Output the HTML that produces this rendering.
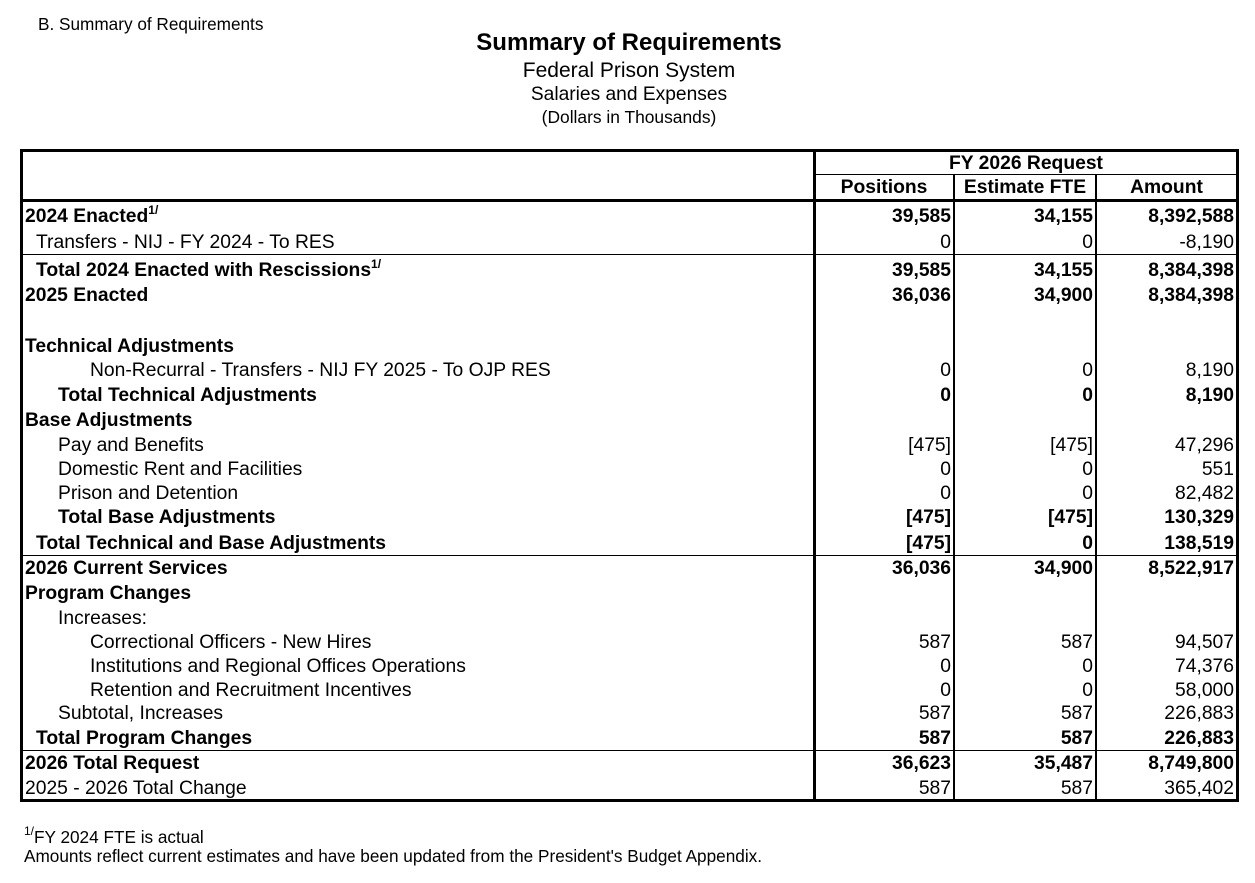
<!DOCTYPE html>
<html><head><meta charset="utf-8"><style>
body{margin:0;width:1255px;height:883px;background:#fff;font-family:"Liberation Sans",Arial,sans-serif;color:#000;position:relative;overflow:hidden}
.a{position:absolute;white-space:nowrap}
.r{position:absolute;height:24px;line-height:24px;font-size:19.3px;white-space:nowrap}
.b{font-weight:bold}
.n{position:absolute;height:24px;line-height:24px;font-size:19.3px;text-align:right}
.h{position:absolute;background:#000}
sup{font-size:12px;vertical-align:8px;line-height:0}
</style></head><body>
<div class="a" style="left:38px;top:14px;font-size:17.2px">B. Summary of Requirements</div>
<div class="a b" style="left:0;width:1258px;text-align:center;top:29px;font-size:24px">Summary of Requirements</div>
<div class="a" style="left:0;width:1258px;text-align:center;top:59px;font-size:21px">Federal Prison System</div>
<div class="a" style="left:0;width:1258px;text-align:center;top:84px;font-size:19.2px">Salaries and Expenses</div>
<div class="a" style="left:0;width:1258px;text-align:center;top:107px;font-size:17.4px">(Dollars in Thousands)</div>

<div>
<div class="h" style="left:20px;top:149px;width:1219px;height:3px"></div>
<div class="h" style="left:20px;top:799px;width:1219px;height:3px"></div>
<div class="h" style="left:20px;top:149px;width:3px;height:653px"></div>
<div class="h" style="left:1236px;top:149px;width:3px;height:653px"></div>
<div class="h" style="left:813px;top:149px;width:3px;height:653px"></div>
<div class="h" style="left:953px;top:175px;width:2px;height:626px"></div>
<div class="h" style="left:1095px;top:175px;width:2px;height:626px"></div>
<div class="h" style="left:815px;top:174px;width:422px;height:1px"></div>
<div class="h" style="left:20px;top:199px;width:1219px;height:3px"></div>
<div class="h" style="left:20px;top:254px;width:1219px;height:1px"></div>
<div class="h" style="left:20px;top:555px;width:1219px;height:1px"></div>
<div class="h" style="left:20px;top:750px;width:1219px;height:1px"></div>
<div class="r b" style="left:815px;width:422px;text-align:center;top:152px">FY 2026 Request</div>
<div class="r b" style="left:815px;width:138px;text-align:center;top:176px">Positions</div>
<div class="r b" style="left:955px;width:140px;text-align:center;top:176px">Estimate FTE</div>
<div class="r b" style="left:1097px;width:139px;text-align:center;top:176px">Amount</div>
</div>
<div id="rows"></div>
<div class="a" style="left:24px;top:827px;font-size:17.2px"><sup>1/</sup>FY 2024 FTE is actual</div>
<div class="a" style="left:24px;top:846px;font-size:17.2px">Amounts reflect current estimates and have been updated from the President's Budget Appendix.</div>
<script>
const labels=["2024 Enacted<sup>1/</sup>","Transfers - NIJ - FY 2024 - To RES","Total 2024 Enacted with Rescissions<sup>1/</sup>","2025 Enacted","","Technical Adjustments","Non-Recurral - Transfers - NIJ FY 2025 - To OJP RES","Total Technical Adjustments","Base Adjustments","Pay and Benefits","Domestic Rent and Facilities","Prison and Detention","Total Base Adjustments","Total Technical and Base Adjustments","2026 Current Services","Program Changes","Increases:","Correctional Officers - New Hires","Institutions and Regional Offices Operations","Retention and Recruitment Incentives","Subtotal, Increases","Total Program Changes","2026 Total Request","2025 - 2026 Total Change"];
const levels=[0,1,1,0,0,0,3,2,0,2,2,2,2,1,0,0,2,3,3,3,2,1,0,0];
const bold=[1,0,1,1,0,1,0,1,1,0,0,0,1,1,1,1,0,0,0,0,0,1,1,0];
const positions=["39,585","0","39,585","36,036","","","0","0","","[475]","0","0","[475]","[475]","36,036","","","587","0","0","587","587","36,623","587"];
const fte=["34,155","0","34,155","34,900","","","0","0","","[475]","0","0","[475]","0","34,900","","","587","0","0","587","587","35,487","587"];
const amounts=["8,392,588","-8,190","8,384,398","8,384,398","","","8,190","8,190","","47,296","551","82,482","130,329","138,519","8,522,917","","","94,507","74,376","58,000","226,883","226,883","8,749,800","365,402"];
const centers=[217,243,271,296,321,347,371,396,421,446,470,494,518,544,569,594,619,643,667,691,714,739,764,789];
const indent=[25,36,58,90];
const host=document.getElementById('rows');
labels.forEach((l,i)=>{
  const y=centers[i]-12, bc=bold[i]?' b':'';
  const d=document.createElement('div');d.className='r'+bc;d.style.left=indent[levels[i]]+'px';d.style.top=y+'px';d.innerHTML=l;
  
  
  host.appendChild(d);
  [[positions,815,136],[fte,955,138],[amounts,1097,137]].forEach(([arr,x,w])=>{
    const c=document.createElement('div');c.className='n'+bc;c.style.left=x+'px';c.style.width=w+'px';c.style.top=y+'px';c.textContent=arr[i];
    
    
    host.appendChild(c);
  });
});
</script>
</body></html>
